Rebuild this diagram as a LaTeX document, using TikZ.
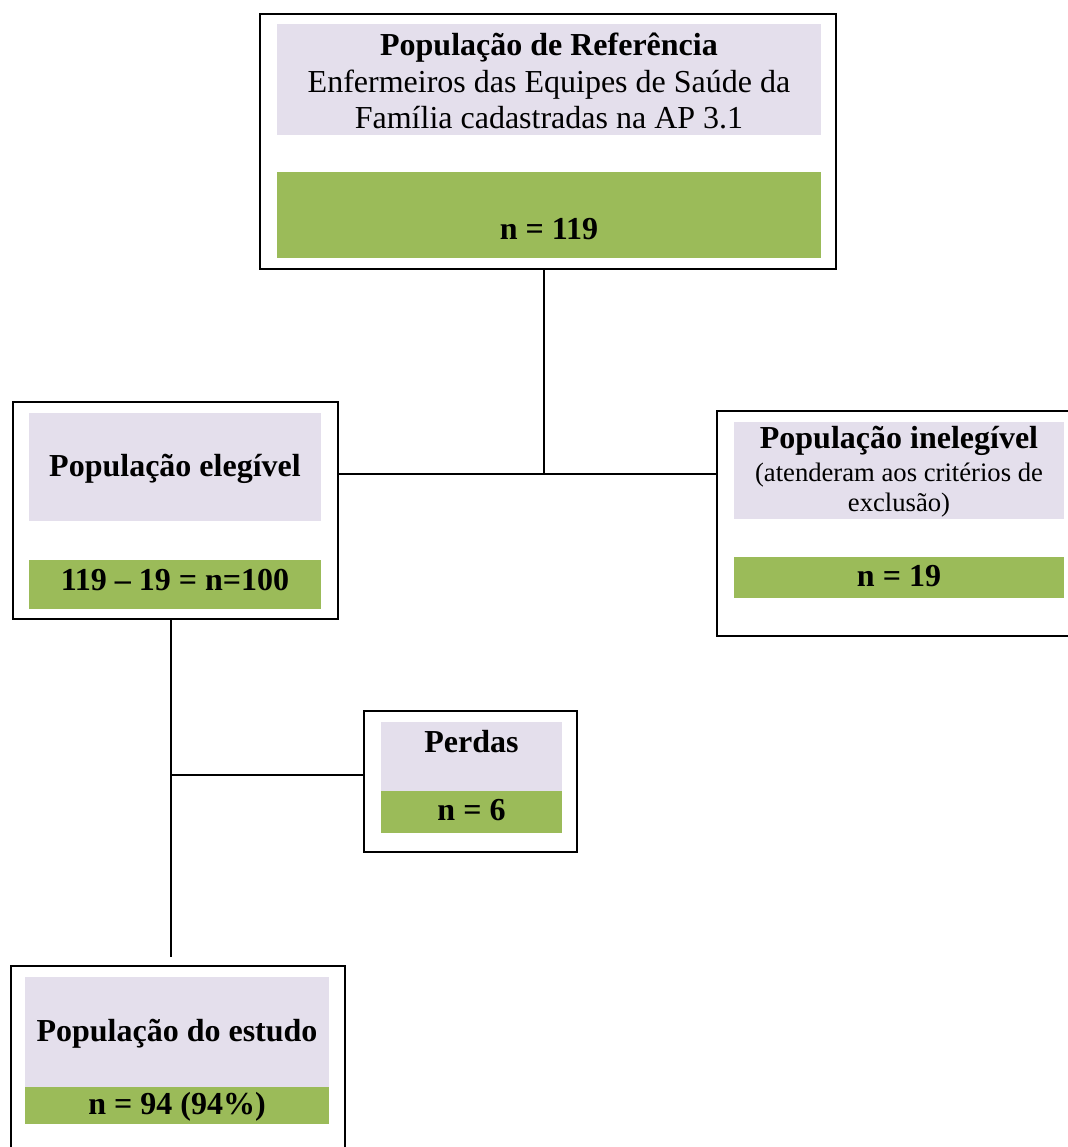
\documentclass[tikz,border=0pt]{standalone}
\usepackage{fontspec}
\setmainfont{Liberation Serif}
\usepackage{tikz}

\definecolor{lilas}{HTML}{E4DFEC}
\definecolor{verde}{HTML}{9BBB59}

\begin{document}
\begin{tikzpicture}[x=0.5pt,y=-0.5pt,
  caixa/.style={draw=black,line width=1pt,fill=white,inner sep=0pt},
  lilasbox/.style={fill=lilas,inner sep=0pt},
  verdebox/.style={fill=verde,inner sep=0pt},
  txt/.style={inner sep=0pt,align=center,font=\fontsize{16}{18.25}\selectfont},
  txtsmall/.style={inner sep=0pt,align=center,font=\fontsize{13.33}{15}\selectfont},
  linha/.style={line width=1pt}]
\useasboundingbox (0,0) rectangle (1067,1147);

%Populacao de referencia
\node[caixa,minimum width=288pt,minimum height=127.5pt] (ref) at (548,141.5) {};
\node[lilasbox,minimum width=272pt,minimum height=55.5pt] (refa) at (549,79.5) {};
\node[verdebox,minimum width=272pt,minimum height=43pt] (refb) at (549,215) {};
\node[txt] (reftxt) at (549,81) {\textbf{População de Referência}\\Enfermeiros das Equipes de Saúde da\\Família cadastradas na AP 3.1};
\node[txt] (refn) at (549,229) {\textbf{n = 119}};

%Populacao elegivel
\node[caixa,minimum width=162.5pt,minimum height=108.5pt] (eleg) at (175.5,510.5) {};
\node[lilasbox,minimum width=146pt,minimum height=54pt] (elega) at (175,467) {};
\node[verdebox,minimum width=146pt,minimum height=24.5pt] (elegb) at (175,584.5) {};
\node[txt] (elegtxt) at (175,469) {\textbf{População elegível}};
\node[txt] (elegn) at (175,580) {\textbf{119 – 19 = n=100}};

%Populacao inelegivel
\node[caixa,minimum width=182pt,minimum height=112.5pt] (ineleg) at (899,523.5) {};
\node[lilasbox,minimum width=165pt,minimum height=48.5pt] (inelega) at (899,470.5) {};
\node[verdebox,minimum width=165pt,minimum height=20.5pt] (inelegb) at (899,577.5) {};
\node[txt] (inelegtxt) at (899,441) {\textbf{População inelegível}};
\node[txtsmall] (inelegsub) at (899,490) {(atenderam aos critérios de\\exclusão)};
\node[txt] (inelegn) at (899,576) {\textbf{n = 19}};

%Perdas
\node[caixa,minimum width=106.5pt,minimum height=70.5pt] (perdas) at (470.5,781.5) {};
\node[lilasbox,minimum width=90.5pt,minimum height=34.5pt] (perdasa) at (471.5,756.5) {};
\node[verdebox,minimum width=90.5pt,minimum height=21pt] (perdasb) at (471.5,812) {};
\node[txt] (perdastxt) at (471.5,742) {\textbf{Perdas}};
\node[txt] (perdasn) at (471.5,810) {\textbf{n = 6}};

%Populacao do estudo
\node[caixa,minimum width=167pt,minimum height=97pt] (estudo) at (178,1063) {};
\node[lilasbox,minimum width=152pt,minimum height=55pt] (estudoa) at (177,1032) {};
\node[verdebox,minimum width=152pt,minimum height=18.5pt] (estudob) at (177,1105.5) {};
\node[txt] (estudotxt) at (177,1034) {\textbf{População do estudo}};
\node[txt] (estudon) at (177,1107) {\textbf{n = 94 (94\%)}};

%Linhas
\coordinate (j1) at (544,474);
\coordinate (j2) at (171,775);
\coordinate (fim) at (171,957);
\draw[linha] (ref.south -| j1) -- (j1);
\draw[linha] (eleg.east |- j1) -- (ineleg.west |- j1);
\draw[linha] (eleg.south -| j2) -- (fim);
\draw[linha] (j2) -- (perdas.west |- j2);

\end{tikzpicture}
\end{document}
